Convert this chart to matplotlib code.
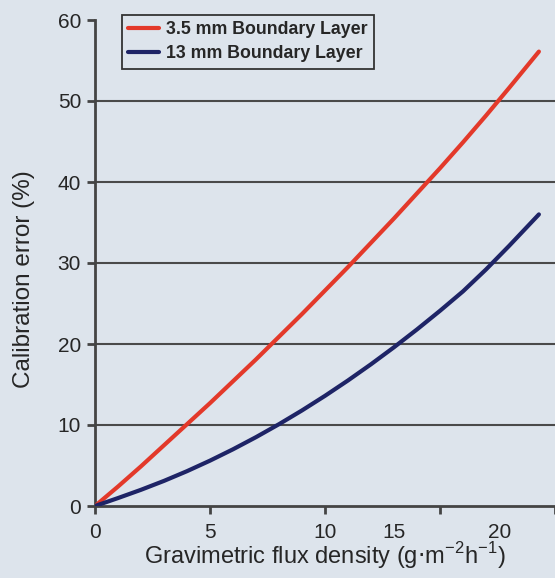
import matplotlib
matplotlib.use("Agg")
import matplotlib.pyplot as plt

plt.rcParams['font.family'] = ['Liberation Sans', 'DejaVu Sans']

# Data
red_x = [0, 1, 2, 3, 4, 5, 6, 7, 8, 9, 10, 11, 12, 13, 14, 15, 16, 17, 18, 19.3]
red_y = [0, 2.4, 4.9, 7.5, 10.1, 12.7, 15.4, 18.1, 20.9, 23.7, 26.6,
         29.5, 32.5, 35.5, 38.6, 41.7, 44.9, 48.2, 51.6, 56.1]
blue_x = [0, 1, 2, 3, 4, 5, 6, 7, 8, 9, 10, 11, 12, 13, 14, 15, 16, 17, 18, 19.3]
blue_y = [0, 0.98, 2.0, 3.1, 4.3, 5.6, 7.0, 8.5, 10.1, 11.8, 13.6,
          15.5, 17.5, 19.6, 21.8, 24.1, 26.5, 29.2, 32.1, 36.0]
series_labels = ["3.5 mm Boundary Layer", "13 mm Boundary Layer"]

y_ticks = [0, 10, 20, 30, 40, 50, 60]
x_tick_marks = [0, 5, 10, 15, 20]
x_tick_labels_main = ['0', '5', '10', '', '']
# in the reference the labels "15" and "20" are printed off their tick marks
x_label_extra_pos = [13.0, 17.6]
x_label_extra = ['15', '20']

bg = '#dde4ec'
txt = '#262626'

fig = plt.figure(figsize=(5.55, 5.78), dpi=100, facecolor=bg)
ax = fig.add_axes([95/555, 72/578, 460/555, 486/578])
ax.set_facecolor(bg)

ax.plot(red_x, red_y, color='#e3392a', lw=3.0, solid_capstyle='round',
        label=series_labels[0], zorder=3)
ax.plot(blue_x, blue_y, color='#1e2466', lw=3.0, solid_capstyle='round',
        label=series_labels[1], zorder=3)

ax.set_xlim(0, 460/23.5)
ax.set_ylim(0, 60)

# horizontal grid lines 10..50
for yv in y_ticks[1:-1]:
    ax.axhline(yv, color='#4a4a4a', lw=1.5, zorder=1)

for s in ['top', 'right']:
    ax.spines[s].set_visible(False)
ax.spines['left'].set_color('#444444')
ax.spines['bottom'].set_color('#444444')
ax.spines['left'].set_linewidth(2)
ax.spines['bottom'].set_linewidth(2)

ax.set_yticks(y_ticks)
ax.set_yticklabels([str(v) for v in y_ticks])
ax.set_xticks(x_tick_marks)
ax.set_xticklabels(x_tick_labels_main)
ax.set_xticks(x_label_extra_pos, minor=True)
ax.set_xticklabels(x_label_extra, minor=True)

ax.tick_params(axis='both', which='major', direction='out', length=6, width=2,
               color='#444444', labelsize=15, labelcolor=txt)
ax.tick_params(axis='y', pad=4)
ax.tick_params(axis='x', which='major', pad=6)
ax.tick_params(axis='x', which='minor', length=0, pad=12, labelsize=15,
               labelcolor=txt)

ax.set_xlabel('Gravimetric flux density (g$\\cdot$m$^{\\mathregular{-2}}$h$^{\\mathregular{-1}}$)',
              fontsize=17, color=txt, labelpad=-1)
ax.set_ylabel('Calibration error (%)', fontsize=17.5, color=txt)
ax.yaxis.set_label_coords(-0.13, 0.467)

leg = ax.legend(loc='upper left', bbox_to_anchor=(27/460, 1.0103), frameon=True,
                fancybox=False, edgecolor='#333333', facecolor=bg, framealpha=1,
                prop={'size': 12.8, 'weight': 'bold'}, handlelength=1.7,
                handletextpad=0.4, borderpad=0.36, labelspacing=0.38,
                borderaxespad=0)
leg.get_frame().set_linewidth(1.3)
for t in leg.get_texts():
    t.set_color(txt)

fig.savefig('out.png', dpi=100, facecolor=bg)
